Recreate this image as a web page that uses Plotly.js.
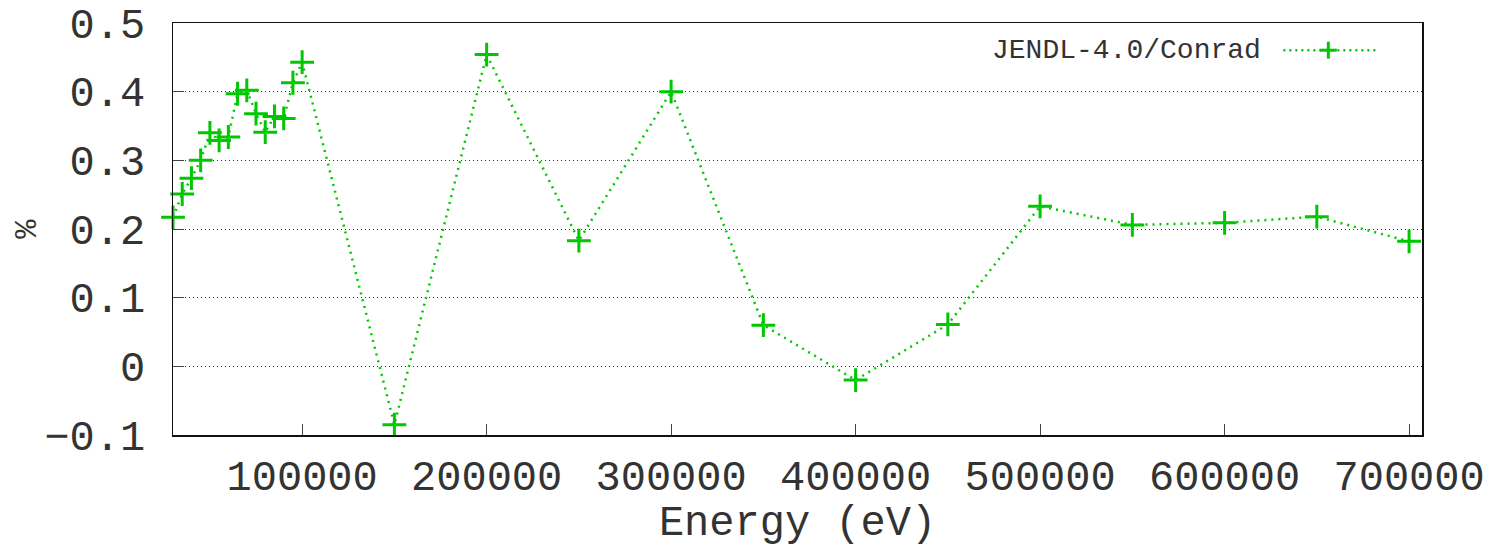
<!DOCTYPE html>
<html>
<head>
<meta charset="utf-8">
<script src="https://cdn.plot.ly/plotly-3.0.1.min.js"></script>
<style>html,body{margin:0;padding:0;background:#fff;}#chart{width:1490px;height:548px;}</style>
</head>
<body>
<div id="chart"></div>
<script>
const energy = [30000, 35000, 40000, 45000, 50000, 55000, 60000, 65000, 70000, 75000, 80000, 85000, 90000, 95000, 100000,
                150000, 200000, 250000, 300000, 350000, 400000, 450000, 500000, 550000, 600000, 650000, 700000];
const percent = [0.217, 0.251, 0.274, 0.300, 0.340, 0.329, 0.334, 0.397, 0.402, 0.368, 0.341, 0.364, 0.361, 0.413, 0.443,
                 -0.085, 0.454, 0.183, 0.400, 0.060, -0.020, 0.061, 0.233, 0.206, 0.209, 0.218, 0.182];
const seriesName = "JENDL-4.0/Conrad";
const xTicks = [100000, 200000, 300000, 400000, 500000, 600000, 700000];
const yTicks = [-0.1, 0, 0.1, 0.2, 0.3, 0.4, 0.5];

const green = "#00c800";
const font = "Liberation Mono, DejaVu Sans Mono, monospace";
const txt = "#333";

const trace = {
  x: energy, y: percent, type: "scatter", mode: "lines+markers", name: seriesName,
  line: {color: green, width: 2.5, dash: "2px,5px"},
  marker: {symbol: "cross-thin", size: 17, line: {color: green, width: 3}, color: green},
  cliponaxis: false, showlegend: false
};

// legend placement (paper coords)
const legX0 = 0.889, legX1 = 0.963, legXc = 0.925, legY = 0.934;

const layout = {
  width: 1490, height: 548,
  margin: {l: 173, r: 68, t: 23, b: 113},
  paper_bgcolor: "#fff", plot_bgcolor: "#fff",
  font: {family: font, color: txt},
  showlegend: false,
  xaxis: {
    range: [30000, 707000], tickvals: xTicks, ticktext: xTicks.map(String),
    ticks: "inside", ticklen: 11, tickwidth: 1, tickcolor: "#444",
    showline: true, linecolor: "#111", linewidth: 1.5, mirror: true,
    showgrid: false, zeroline: false,
    tickfont: {family: font, size: 42, color: txt},
    ticklabelstandoff: 3,
    title: {text: "Energy (eV)", font: {family: font, size: 42, color: txt}, standoff: 16}
  },
  yaxis: {
    range: [-0.1, 0.5], tickvals: yTicks, ticktext: yTicks.map(v => v === 0 ? "0" : String(v).replace("-", "\u2212")),
    ticks: "inside", ticklen: 11, tickwidth: 1, tickcolor: "#444",
    showline: true, linecolor: "#111", linewidth: 1.5, mirror: true,
    showgrid: true, gridcolor: "#333", gridwidth: 1, griddash: "1px,3px",
    zeroline: false,
    tickfont: {family: font, size: 42, color: txt},
    ticklabelstandoff: 18
  },
  annotations: [
    {text: "%", xref: "paper", yref: "paper", x: -0.117, y: 0.5, showarrow: false, textangle: -90,
     font: {family: font, size: 32, color: txt}, xanchor: "center", yanchor: "middle"},
    {text: seriesName, xref: "paper", yref: "paper", x: 0.8725, y: legY, showarrow: false,
     xanchor: "right", yanchor: "middle", font: {family: font, size: 28, color: txt}}
  ],
  shapes: [
    {type: "line", xref: "paper", yref: "paper", x0: legX0, x1: legX1, y0: legY, y1: legY,
     line: {color: green, width: 2.5, dash: "2px,4px"}},
    {type: "line", xref: "paper", yref: "paper", x0: legXc - 0.0068, x1: legXc + 0.0068, y0: legY, y1: legY,
     line: {color: green, width: 3}},
    {type: "line", xref: "paper", yref: "paper", x0: legXc, x1: legXc, y0: legY - 0.0206, y1: legY + 0.0206,
     line: {color: green, width: 3}}
  ]
};

Plotly.newPlot("chart", [trace], layout, {displayModeBar: false, staticPlot: true});
</script>
</body>
</html>
